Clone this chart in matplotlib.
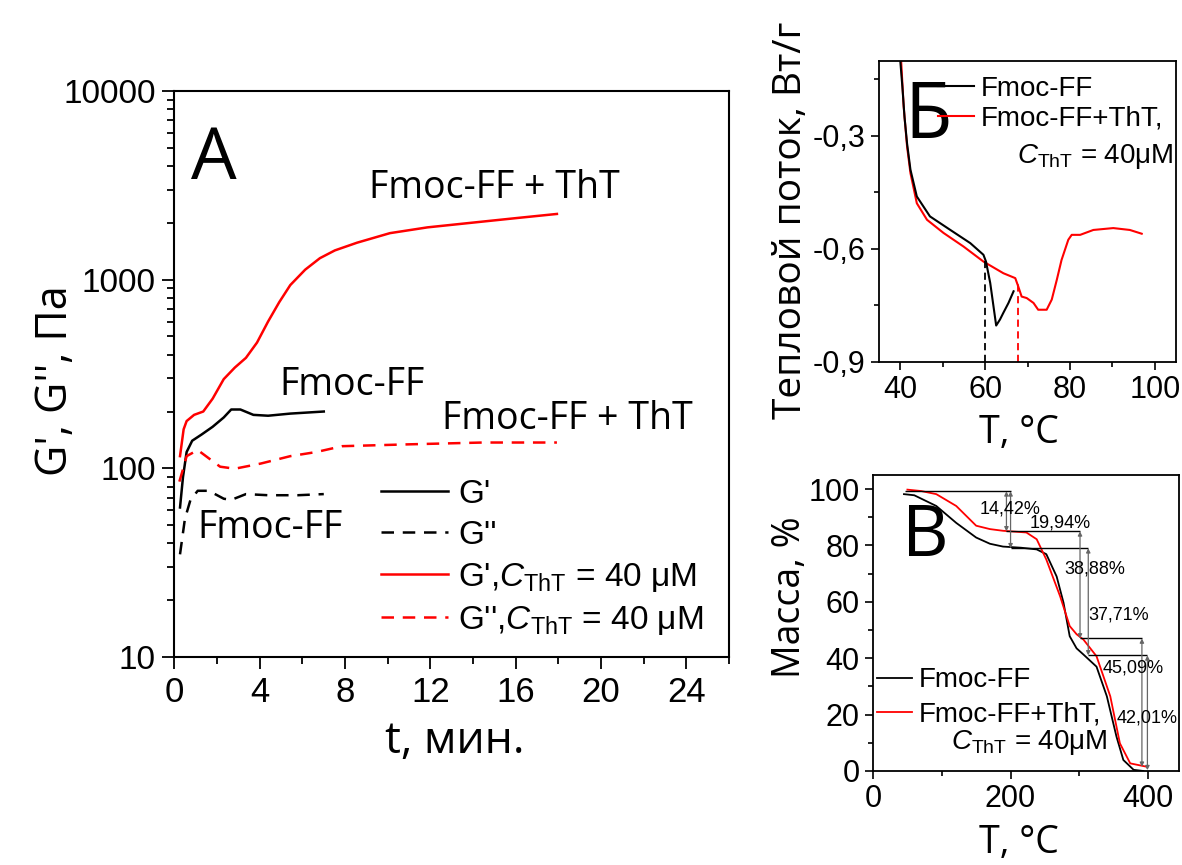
import numpy as np
import matplotlib
matplotlib.use("Agg")
import matplotlib.pyplot as plt
from matplotlib.lines import Line2D
from matplotlib.ticker import MultipleLocator, FixedLocator, LogLocator, NullFormatter

plt.rcParams['font.family'] = ['Liberation Sans', 'DejaVu Sans']
plt.rcParams['mathtext.fontset'] = 'custom'
plt.rcParams['mathtext.rm'] = 'Liberation Sans'
plt.rcParams['mathtext.it'] = 'Liberation Sans:italic'
CAL = ['Open Sans', 'DejaVu Sans']   # stand-in for Calibri

# --- panel A: G', G'' vs time ---
t_gp_ff = [0.26, 0.4, 0.57, 0.83, 1.27, 1.79, 2.31, 2.66, 3.09, 3.7, 4.39, 5.43, 7.0]
gp_ff = [62, 90, 122, 140, 151, 166, 186, 205, 205, 192, 190, 195, 200]
t_gpp_ff = [0.26, 0.49, 0.75, 1.09, 1.61, 2.31, 2.66, 3.35, 4.39, 5.78, 7.0]
gpp_ff = [35, 54, 68, 76, 76, 69, 68, 73, 72, 72, 73]
t_gp_tht = [0.26, 0.43, 0.57, 0.92, 1.35, 1.79, 2.31, 2.83, 3.35, 3.87, 4.39, 4.91,
            5.43, 6.13, 6.82, 7.52, 8.56, 10.1, 11.86, 14.46, 16.2, 17.93]
gp_tht = [116, 161, 178, 192, 200, 234, 297, 342, 385, 464, 600, 759,
          936, 1130, 1300, 1429, 1570, 1764, 1893, 2032, 2130, 2230]
t_gpp_tht = [0.23, 0.4, 0.57, 1.09, 1.61, 2.14, 2.83, 4.05, 5.43, 6.65, 7.86, 11, 14.46, 17.93]
gpp_tht = [85, 99, 116, 125, 113, 102, 99.5, 106, 116, 122, 131, 134, 137, 137]

# --- panel Б: DSC ---
T_dsc_ff = [40.0, 40.5, 41.0, 41.6, 42.4, 43.9, 47.0, 51.8, 56.5, 59.6, 60.2, 61.2,
            62.6, 63.5, 64.3, 65.5, 66.7]
q_ff = [-0.10, -0.17, -0.25, -0.32, -0.39, -0.461, -0.514, -0.55, -0.585, -0.616, -0.634, -0.691,
        -0.804, -0.788, -0.77, -0.744, -0.713]
T_dsc_tht = [40.2, 40.8, 41.6, 42.4, 43.9, 46.3, 50.2, 54.9, 59.6, 64.3, 67.1, 67.8, 68.6,
             69.8, 71.4, 72.5, 74.5, 75.7, 76.9, 78.0, 79.6, 80.4, 82.4, 85.5, 90.2, 94.1, 96.9]
q_tht = [-0.10, -0.222, -0.328, -0.399, -0.479, -0.523, -0.558, -0.594, -0.634, -0.665, -0.678,
         -0.70, -0.727, -0.731, -0.744, -0.762, -0.762, -0.735, -0.682, -0.63, -0.576, -0.563,
         -0.563, -0.55, -0.545, -0.55, -0.56]
T_onset = [60.0, 67.7]
q_onset = [-0.625, -0.69]

# --- panel В: TGA ---
T_tga_ff = [45, 60, 92, 121, 150, 170, 189, 215, 238, 252, 267, 277, 286, 296, 306, 325,
            340, 354, 364, 379, 393]
m_ff = [98.2, 97.8, 94, 88, 82.8, 80.6, 79.6, 79.2, 78.6, 76.9, 69, 59.7, 47.8, 43.5, 41.3, 37,
        26.5, 12.2, 3.9, 0.4, 0]
T_tga_tht = [50, 70, 92, 121, 150, 170, 189, 223, 238, 252, 272, 286, 296, 306, 325, 345, 359,
             374, 398]
m_tht = [99.8, 99.3, 98.2, 94, 87, 85.8, 85.2, 84.6, 82.2, 75, 62, 51.4, 48.5, 46.6, 40.7, 26.5,
         9.8, 2.7, 1.5]
steps_y = [99.2, 85, 79, 47, 41]
steps_x0 = [46, 194, 200, 301, 313]
steps_x1 = [200, 301, 313, 391, 399]
arrow_x = [194, 200, 301, 313, 391, 399]
arrow_top = [99.2, 99.2, 85, 79, 47, 41]
arrow_bot = [85, 79, 47, 41, 1.5, 0.3]
pct_text = ['14,42%', '19,94%', '38,88%', '37,71%', '45,09%', '42,01%']
pct_x = [199, 272, 323, 357, 379, 398]
pct_y = [93, 88, 71.5, 55.5, 36.6, 18.7]

RED = '#ff0000'
fig = plt.figure(figsize=(11.82, 8.65), dpi=100)

# ================= A =================
axA = fig.add_axes([0.1476, 0.2405, 0.4692, 0.6543])
axA.plot(t_gp_ff, gp_ff, color='black', lw=1.8)
axA.plot(t_gpp_ff, gpp_ff, color='black', lw=1.8, dashes=(5, 3.5))
axA.plot(t_gp_tht, gp_tht, color=RED, lw=1.8)
axA.plot(t_gpp_tht, gpp_tht, color=RED, lw=1.8, dashes=(5, 3.5))
axA.set_yscale('log')
axA.set_xlim(0, 26)
axA.set_ylim(10, 10000)
axA.xaxis.set_major_locator(FixedLocator([0, 4, 8, 12, 16, 20, 24]))
axA.xaxis.set_minor_locator(MultipleLocator(2))
axA.yaxis.set_major_locator(FixedLocator([10, 100, 1000, 10000]))
axA.yaxis.set_major_formatter(plt.FuncFormatter(lambda v, p: '%d' % v))
axA.yaxis.set_minor_locator(LogLocator(base=10, subs=np.arange(2, 10)))
axA.yaxis.set_minor_formatter(NullFormatter())
axA.tick_params(which='both', direction='out', width=1.3)
axA.tick_params(which='major', length=8.5, pad=5)
axA.tick_params(which='minor', length=5)
axA.tick_params(axis='x', labelsize=25)
axA.tick_params(axis='y', labelsize=24)
for s in axA.spines.values():
    s.set_linewidth(1.5)
axA.text(0.03, 0.815, 'A', transform=axA.transAxes, fontsize=52, family=CAL, va='bottom')
axA.text(15.0, 3050, 'Fmoc-FF + ThT', fontsize=27, family=CAL, ha='center', va='center')
axA.text(8.3, 275, 'Fmoc-FF', fontsize=27, family=CAL, ha='center', va='center')
axA.text(18.4, 182, 'Fmoc-FF + ThT', fontsize=27, family=CAL, ha='center', va='center')
axA.text(4.5, 48, 'Fmoc-FF', fontsize=27, family=CAL, ha='center', va='center')
hA = [Line2D([], [], color='black', lw=1.8),
      Line2D([], [], color='black', lw=1.8, dashes=(5, 3.5)),
      Line2D([], [], color=RED, lw=1.8),
      Line2D([], [], color=RED, lw=1.8, dashes=(5, 3.5))]
lA = ["G'", "G''", r"G',$\mathit{C}_{\mathrm{ThT}}$ = 40 μM", r"G'',$\mathit{C}_{\mathrm{ThT}}$ = 40 μM"]
axA.legend(hA, lA, loc='lower left', bbox_to_anchor=(0.373, 0.035), frameon=False,
           borderpad=0, borderaxespad=0, fontsize=24, handlelength=2.0, handletextpad=0.3,
           labelspacing=0.3)
fig.text(0.047, 0.56, "G', G'', Па", rotation=90, fontsize=31, family=CAL, ha='center', va='center')
fig.text(0.385, 0.143, 't, мин.', fontsize=32, family=CAL, ha='center', va='center')

# ================= Б =================
axB = fig.add_axes([0.7437, 0.5819, 0.2513, 0.348])
axB.plot(T_dsc_tht, q_tht, color=RED, lw=1.5)
axB.plot(T_dsc_ff, q_ff, color='black', lw=1.5)
axB.vlines(T_onset[0], -0.9, q_onset[0], colors='black', linestyles=(0, (4, 2.5)), lw=1.3)
axB.vlines(T_onset[1], -0.9, q_onset[1], colors=RED, linestyles=(0, (4, 2.5)), lw=1.3)
axB.set_xlim(35, 105)
axB.set_ylim(-0.9, -0.1)
axB.xaxis.set_major_locator(FixedLocator([40, 60, 80, 100]))
axB.xaxis.set_minor_locator(FixedLocator([50, 70, 90]))
axB.yaxis.set_major_locator(FixedLocator([-0.9, -0.6, -0.3]))
axB.yaxis.set_minor_locator(FixedLocator([-0.75, -0.45, -0.15]))
axB.yaxis.set_major_formatter(plt.FuncFormatter(lambda v, p: ('%.1f' % v).replace('.', ',')))
axB.tick_params(which='both', direction='out', labelsize=22, width=1.2)
axB.tick_params(which='major', length=6)
axB.tick_params(which='minor', length=3.5)
for s in axB.spines.values():
    s.set_linewidth(1.3)
axB.text(0.085, 0.68, 'Б', transform=axB.transAxes, fontsize=56, family=CAL, va='bottom')
hB = [Line2D([], [], color='black', lw=1.5), Line2D([], [], color=RED, lw=1.5)]
axB.legend(hB, ['Fmoc-FF', 'Fmoc-FF+ThT,'], loc='upper left', bbox_to_anchor=(0.199, 0.95),
           frameon=False, borderpad=0, borderaxespad=0, fontsize=20, handlelength=1.3,
           handletextpad=0.25, labelspacing=0.15)
axB.text(0.99, 0.68, r'$\mathit{C}_{\mathrm{ThT}}$ = 40μM', transform=axB.transAxes,
         fontsize=20, ha='right', va='center')
fig.text(0.669, 0.745, 'Тепловой поток, Вт/г', rotation=90, fontsize=28, family=CAL,
         ha='center', va='center')
fig.text(0.862, 0.5, 'T, °C', fontsize=27, family=CAL, ha='center', va='center')

# ================= В =================
axC = fig.add_axes([0.7386, 0.1087, 0.2589, 0.3422])
axC.plot(T_tga_ff, m_ff, color='black', lw=1.3)
axC.plot(T_tga_tht, m_tht, color=RED, lw=1.3)
axC.hlines(steps_y, steps_x0, steps_x1, colors='black', lw=1.0)
for x, y0, y1 in zip(arrow_x, arrow_top, arrow_bot):
    axC.annotate('', xy=(x, y1), xytext=(x, y0),
                 arrowprops=dict(arrowstyle='<|-|>', color='0.4', lw=0.9,
                                 mutation_scale=6, shrinkA=0, shrinkB=0))
for s_, x, y in zip(pct_text, pct_x, pct_y):
    axC.text(x, y, s_, fontsize=13, ha='center', va='center')
axC.set_xlim(0, 445)
axC.set_ylim(0, 105)
axC.xaxis.set_major_locator(FixedLocator([0, 200, 400]))
axC.xaxis.set_minor_locator(FixedLocator([100, 300]))
axC.yaxis.set_major_locator(MultipleLocator(20))
axC.yaxis.set_minor_locator(MultipleLocator(10))
axC.tick_params(which='both', direction='out', labelsize=22, width=1.2)
axC.tick_params(which='major', length=6)
axC.tick_params(which='minor', length=3.5)
for s in axC.spines.values():
    s.set_linewidth(1.3)
axC.text(0.095, 0.67, 'В', transform=axC.transAxes, fontsize=52, family=CAL, va='bottom')
hC = [Line2D([], [], color='black', lw=1.3), Line2D([], [], color=RED, lw=1.3)]
axC.legend(hC, ['Fmoc-FF', 'Fmoc-FF+ThT,'], loc='upper left', bbox_to_anchor=(0.013, 0.35),
           frameon=False, borderpad=0, borderaxespad=0, fontsize=20, handlelength=1.25,
           handletextpad=0.25, labelspacing=0.3)
axC.text(0.765, 0.095, r'$\mathit{C}_{\mathrm{ThT}}$ = 40μM', transform=axC.transAxes,
         fontsize=20, ha='right', va='center')
fig.text(0.668, 0.31, 'Масса, %', rotation=90, fontsize=27, family=CAL, ha='center', va='center')
fig.text(0.862, 0.025, 'T, °C', fontsize=27, family=CAL, ha='center', va='center')

fig.savefig('out.png', dpi=100)
